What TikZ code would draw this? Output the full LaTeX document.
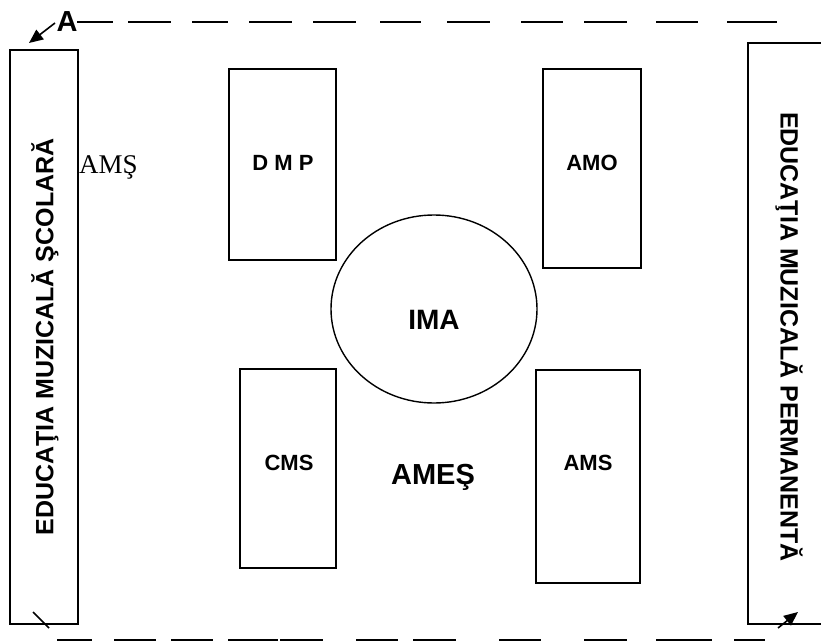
\documentclass[tikz,border=0pt]{standalone}
\usepackage{fontspec}
\setmainfont{Liberation Serif}
\setsansfont{Liberation Sans}
\usetikzlibrary{arrows.meta,shapes.geometric}
\begin{document}
\begin{tikzpicture}[x=1pt,y=-1pt,
  box/.style={draw, line width=1.6pt, rectangle, inner sep=0pt},
  lbl/.style={font=\sffamily\bfseries\fontsize{22}{22}\selectfont, inner sep=0pt},
  vlbl/.style={font=\sffamily\bfseries\fontsize{25}{25}\selectfont, inner sep=0pt},
  big/.style={font=\sffamily\bfseries\fontsize{29}{29}\selectfont, inner sep=0pt},
  dsh/.style={line width=1.6pt},
  arr/.style={line width=1.6pt, -{Triangle[length=14pt,width=12pt]}}]
\useasboundingbox (0,0) rectangle (821,642);
\fill[white] (0,0) rectangle (821,642);
% side boxes
\node[box, minimum width=68pt, minimum height=574pt] (lbox) at (44,337) {};
\node[box, minimum width=80pt, minimum height=581pt] (rbox) at (788,333.5) {};
\node[vlbl, rotate=90] (ltext) at (45,337) {EDUCAŢIA MUZICALĂ ŞCOLARĂ};
\node[vlbl, rotate=-90] (rtext) at (789,337) {EDUCAŢIA MUZICALĂ PERMANENTĂ};
% inner boxes
\node[box, minimum width=107pt, minimum height=191pt] (dmp) at (282.5,164.5) {};
\node[box, minimum width=98pt, minimum height=199pt] (amo) at (592,168.5) {};
\node[box, minimum width=96pt, minimum height=199pt] (cms) at (288,468.5) {};
\node[box, minimum width=104pt, minimum height=213pt] (ams) at (588,476.5) {};
\node[lbl] (tdmp) at (283,163) {D M P};
\node[lbl] (tamo) at (592,163) {AMO};
\node[lbl] (tcms) at (289,463) {CMS};
\node[lbl] (tams) at (588,463) {AMS};
% ellipse
\node[draw, ellipse, line width=1.4pt, minimum width=206pt, minimum height=188pt, inner sep=0pt] (ima) at (434,309) {};
\node[big, font=\sffamily\bfseries\fontsize{28}{28}\selectfont] (tima) at (434,320) {IMA};
\node[big] (ames) at (433,477) {AMEŞ};
\node[font=\fontsize{27}{27}\selectfont, anchor=base west, inner sep=0pt] (amsl) at (79,173) {AMŞ};
% A label and arrows
\node[big] (alabel) at (67,22) {A};
\coordinate (a1) at (55,23);
\coordinate (a2) at (29,43);
\draw[arr] (a1) -- (a2);
\coordinate (b1) at (778,628);
\coordinate (b2) at (798,612);
\draw[arr] (b1) -- (b2);
\coordinate (t1) at (33,612);
\coordinate (t2) at (49,628);
\draw[dsh] (t1) -- (t2);
% top dashes
\foreach \s/\e in {77/113,128/171,192/228,249/292,313/356,380/421,447/490,521/563,584/627,656/698,727/777}
  \draw[dsh] (\s,22) -- (\e,22);
% bottom dashes
\foreach \s/\e in {57/92,114/156,171/213,228/278,280/323,356/398,413/456,499/541,584/627,656/712,734/765}
  \draw[dsh] (\s,640) -- (\e,640);
\end{tikzpicture}
\end{document}
